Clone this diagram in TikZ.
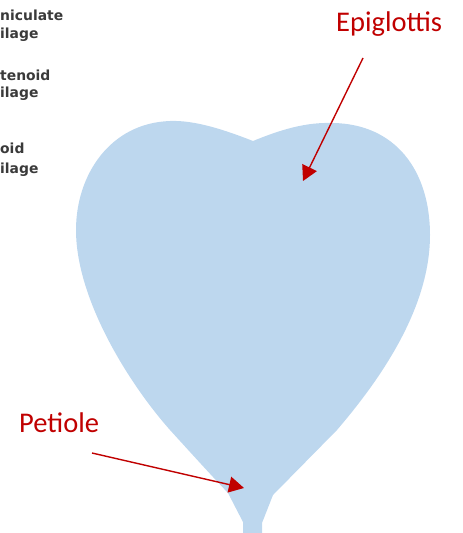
\documentclass[tikz,border=0pt]{standalone}
\usepackage{fontspec}
\usetikzlibrary{arrows.meta}
\newfontfamily\labelfont{Carlito}
\newfontfamily\tagfont{DejaVu Sans}
\definecolor{leafblue}{HTML}{BDD7EE}
\definecolor{callred}{HTML}{C00000}
\definecolor{taggray}{HTML}{3A3A3A}
\tikzset{
  leaf/.style={fill=leafblue, draw=none},
  callout/.style={draw=callred, line width=1.4pt,
    -{Triangle[length=15pt,width=16pt]}},
  calltext/.style={text=callred, inner sep=0pt, anchor=base west,
    font=\labelfont\fontsize{28.5}{30}\selectfont},
  tag/.style={text=taggray, inner sep=0pt, anchor=base west,
    font=\tagfont\bfseries\fontsize{13.9}{15}\selectfont}
}
\begin{document}
\begin{tikzpicture}[x=1pt,y=-1pt]
  \useasboundingbox (0,0) rectangle (463,533);

  % cartilage tags at the left edge
  \node[tag] (t1a) at (0,20) {niculate};
  \node[tag] (t1b) at (0,38) {ilage};
  \node[tag] (t2a) at (0,80) {tenoid};
  \node[tag] (t2b) at (0,97) {ilage};
  \node[tag] (t3a) at (0,153) {oid};
  \node[tag] (t3b) at (0,173) {ilage};

  % heart-shaped epiglottis with its petiole
  \fill[leaf] (243,540) -- (243,522) -- (228,493)
    .. controls (210,474) and (190,452) .. (170,430)
    .. controls (130,385) and (76,300) .. (76,230)
    .. controls (76,175) and (110,123) .. (170,121)
    .. controls (195,120) and (225,130) .. (253,141)
    .. controls (280,130) and (305,122) .. (333,123)
    .. controls (395,124) and (430,170) .. (430,235)
    .. controls (430,310) and (378,382) .. (337,430)
    -- (273,495) -- (262,523) -- (262,540) -- cycle;

  % callouts
  \node[calltext] (epi) at (336,31) {Epiglottis};
  \node[calltext] (pet) at (19,432) {Petiole};
  \coordinate (epiFrom) at (363,58);
  \coordinate (epiTip) at (303,181);
  \coordinate (petFrom) at (92,453);
  \coordinate (petTip) at (244,488);
  \draw[callout] (epiFrom) -- (epiTip);
  \draw[callout] (petFrom) -- (petTip);
\end{tikzpicture}
\end{document}
